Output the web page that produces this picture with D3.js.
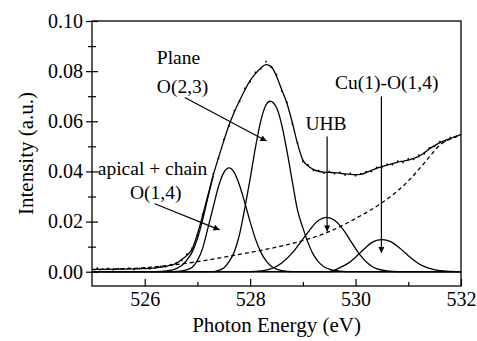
<!DOCTYPE html>
<html>
<head>
<meta charset="utf-8">
<script src="https://cdn.jsdelivr.net/npm/d3@7"></script>
<style>
  body { margin: 0; background: #fff; }
  svg { display: block; font-family: "Liberation Serif", "Times New Roman", serif; }
</style>
</head>
<body>
<svg id="chart"></svg>
<script>
// axis ticks
const energyTicks = [526, 528, 530, 532];
const energyMinorTicks = [527, 529, 531];
const intensityTicks = [0, 0.02, 0.04, 0.06, 0.08, 0.10];
const intensityMinorTicks = [0.01, 0.03, 0.05, 0.07, 0.09];

// measured points [eV, intensity]
const measured = [
  [525.1, .0014], [525.2, .0010], [525.3, .0013], [525.4, .0008], [525.5, .0012], [525.6, .0011],
  [525.7, .0014], [525.8, .0009], [525.9, .0013], [526.0, .0015], [526.1, .0012], [526.2, .0016],
  [526.3, .0021], [526.4, .0020], [526.5, .0028], [526.6, .0036], [526.7, .0045], [526.8, .0070],
  [526.9, .0094], [527.0, .0146], [527.1, .0230], [527.2, .0301], [527.3, .0390], [527.4, .0452],
  [527.5, .0527], [527.6, .0581], [527.7, .0642], [527.8, .0679], [527.9, .0731], [528.0, .0758],
  [528.1, .0795], [528.2, .0809], [528.3, .0838], [528.4, .0815], [528.5, .0786], [528.6, .0720],
  [528.7, .0675], [528.8, .0590], [528.9, .0514], [529.0, .0440], [529.1, .0426], [529.2, .0404],
  [529.3, .0403], [529.4, .0393], [529.5, .0399], [529.6, .0391], [529.7, .0396], [529.8, .0386],
  [529.9, .0392], [530.0, .0383], [530.1, .0391], [530.2, .0399], [530.3, .0400], [530.4, .0416],
  [530.5, .0415], [530.6, .0429], [530.7, .0427], [530.8, .0441], [530.9, .0436], [531.0, .0450],
  [531.1, .0448], [531.2, .0465], [531.3, .0470], [531.4, .0494], [531.5, .0500], [531.6, .0519],
  [531.7, .0521], [531.8, .0535], [531.9, .0537]
];

// total fit
const fitTotal = [
  [525.0, .0009], [525.5, .0010], [526.0, .0012], [526.2, .0015], [526.3, .0018], [526.4, .0022],
  [526.5, .0026], [526.6, .0033], [526.7, .0048], [526.8, .0065], [526.9, .0090], [527.0, .0150],
  [527.1, .0225], [527.2, .0305], [527.3, .0385], [527.4, .0455], [527.5, .0522], [527.6, .0585],
  [527.7, .0637], [527.8, .0683], [527.9, .0725], [528.0, .0762], [528.1, .0790], [528.2, .0812],
  [528.3, .0826], [528.4, .0818], [528.5, .0780], [528.6, .0725], [528.7, .0670], [528.8, .0595],
  [528.9, .0510], [529.0, .0445], [529.1, .0422], [529.2, .0408], [529.3, .0400], [529.4, .0397],
  [529.5, .0396], [529.6, .0395], [529.7, .0393], [529.8, .0390], [529.9, .0388], [530.0, .0387],
  [530.1, .0388], [530.2, .0395], [530.3, .0404], [530.4, .0412], [530.5, .0419], [530.6, .0425],
  [530.7, .0431], [530.8, .0437], [530.9, .0441], [531.0, .0445], [531.1, .0452], [531.2, .0460],
  [531.3, .0474], [531.4, .0490], [531.5, .0503], [531.6, .0515], [531.7, .0524], [531.8, .0531],
  [531.9, .0539], [532.0, .0547]
];

// second line on the low-energy flank
const fitInner = [
  [526.2, 0], [526.4, .0003], [526.5, .0006], [526.6, .0012], [526.7, .0025], [526.8, .0046],
  [526.9, .0078], [527.0, .0132], [527.1, .0208], [527.2, .0298], [527.3, .0382]
];

// background (dashed)
const background = [
  [525.0, .0008], [525.5, .0011], [526.0, .0016], [526.5, .0026], [527.0, .0040], [527.5, .0058],
  [528.0, .0077], [528.5, .0098], [529.0, .0124], [529.5, .0160], [530.0, .0212], [530.5, .0275],
  [530.8, .0323], [531.0, .0362], [531.2, .0408], [531.4, .0458], [531.6, .0505], [531.8, .0530],
  [532.0, .0547]
];

// peak components
const peakApical = [
  [525, 0], [526.5, 0], [526.6, .0001], [526.7, .0003], [526.8, .0008], [526.9, .0018],
  [527.0, .0045], [527.1, .0094], [527.2, .0175], [527.3, .0258], [527.4, .0340], [527.5, .0395],
  [527.6, .0414], [527.7, .0395], [527.8, .0344], [527.9, .0274], [528.0, .0199], [528.1, .0131],
  [528.2, .0079], [528.3, .0044], [528.4, .0022], [528.5, .0010], [528.6, .0004], [528.8, 0], [532, 0]
];
const peakPlane = [
  [525, 0], [527.3, 0], [527.4, .0005], [527.5, .0015], [527.6, .0040], [527.7, .0080],
  [527.8, .0150], [527.9, .0255], [528.0, .0370], [528.1, .0495], [528.2, .0600], [528.3, .0665],
  [528.38, .0680], [528.5, .0655], [528.6, .0585], [528.7, .0480], [528.8, .0360], [528.9, .0245],
  [529.0, .0175], [529.1, .0115], [529.2, .0068], [529.3, .0038], [529.4, .0020], [529.5, .0010],
  [529.7, .0002], [529.9, 0], [532, 0]
];
const peakUHB = [
  [525, 0], [528.0, 0], [528.2, .0003], [528.4, .0012], [528.6, .0035], [528.8, .0075],
  [529.0, .0130], [529.1, .0158], [529.2, .0185], [529.3, .0205], [529.45, .0217], [529.6, .0205],
  [529.7, .0185], [529.8, .0158], [529.9, .0125], [530.0, .0092], [530.1, .0063], [530.2, .0040],
  [530.3, .0023], [530.4, .0012], [530.6, .0003], [530.8, 0], [532, 0]
];
const peakCuO = [
  [525, 0], [529.5, 0], [529.7, .0016], [529.9, .0040], [530.0, .0058], [530.1, .0078],
  [530.2, .0098], [530.3, .0115], [530.4, .0125], [530.5, .0128], [530.6, .0125], [530.7, .0116],
  [530.8, .0101], [530.9, .0083], [531.0, .0064], [531.1, .0047], [531.2, .0032], [531.3, .0021],
  [531.4, .0013], [531.6, .0004], [531.8, .0001], [532, 0]
];

// annotations in data units
const labels = [
  { text: 'Plane', x: 526.23, y: 0.0827, anchor: 'start' },
  { text: 'O(2,3)', x: 526.23, y: 0.0711, anchor: 'start' },
  { text: 'apical + chain', x: 525.11, y: 0.0387, anchor: 'start' },
  { text: 'O(1,4)', x: 525.72, y: 0.0291, anchor: 'start' },
  { text: 'UHB', x: 529.44, y: 0.0567, anchor: 'middle' },
  { text: 'Cu(1)-O(1,4)', x: 530.59, y: 0.0729, anchor: 'middle' }
];
const arrows = [
  { x1: 526.76, y1: 0.0695, x2: 528.31, y2: 0.0521 },
  { x1: 526.19, y1: 0.0271, x2: 527.42, y2: 0.0167 },
  { x1: 529.46, y1: 0.0539, x2: 529.46, y2: 0.0160 },
  { x1: 530.49, y1: 0.0699, x2: 530.49, y2: 0.0075 }
];

class SpectrumChart {
    constructor(config) {
        this.config = {
            parentElement: config.parentElement,
            containerWidth: config.containerWidth || 477,
            containerHeight: config.containerHeight || 341,
            margin: config.margin || { top: 21, right: 16, bottom: 55, left: 92 }
        };
        this.initApp();
    }
    initApp() {
        const app = this;
        app.width = app.config.containerWidth - app.config.margin.left - app.config.margin.right;
        app.height = app.config.containerHeight - app.config.margin.top - app.config.margin.bottom;
        app.xScale = d3.scaleLinear().domain([525, 532]).range([0, app.width]);
        app.yScale = d3.scaleLinear().domain([-0.0057, 0.10]).range([app.height, 0]);
        app.svg = d3.select(app.config.parentElement)
            .attr('width', app.config.containerWidth)
            .attr('height', app.config.containerHeight);
        app.svg.append('defs').append('marker')
            .attr('id', 'head')
            .attr('viewBox', '0 0 10 10')
            .attr('refX', 10).attr('refY', 5)
            .attr('markerUnits', 'userSpaceOnUse')
            .attr('markerWidth', 9).attr('markerHeight', 6)
            .attr('orient', 'auto')
            .append('path').attr('d', 'M0,0 L10,5 L0,10 Z').attr('fill', '#000');
        app.chart = app.svg.append('g')
            .attr('transform', `translate(${app.config.margin.left},${app.config.margin.top})`);
        app.renderApp();
    }
    renderApp() {
        const app = this;
        const line = d3.line()
            .x(d => app.xScale(d[0]))
            .y(d => app.yScale(d[1]))
            .curve(d3.curveMonotoneX);

        // zero line
        app.chart.append('line')
            .attr('x1', 0).attr('x2', app.width)
            .attr('y1', app.yScale(0)).attr('y2', app.yScale(0))
            .attr('stroke', '#000').attr('stroke-width', 1.5);

        app.chart.append('path').datum(background)
            .attr('d', line).attr('fill', 'none')
            .attr('stroke', '#000').attr('stroke-width', 1.3)
            .attr('stroke-dasharray', '4,3');

        [peakApical, peakPlane, peakUHB, peakCuO, fitInner, fitTotal].forEach(series => {
            app.chart.append('path').datum(series)
                .attr('d', line).attr('fill', 'none')
                .attr('stroke', '#000').attr('stroke-width', 1.3);
        });

        app.chart.selectAll('.pt').data(measured).enter().append('rect')
            .attr('class', 'pt')
            .attr('x', d => app.xScale(d[0]) - 0.8)
            .attr('y', d => app.yScale(d[1]) - 0.8)
            .attr('width', 1.6).attr('height', 1.6)
            .attr('fill', '#000');

        // axes
        const xAxis = d3.axisBottom(app.xScale).tickValues(energyTicks)
            .tickSize(-7).tickPadding(6).tickFormat(d3.format('d'));
        const xMinor = d3.axisBottom(app.xScale).tickValues(energyMinorTicks)
            .tickSize(-4).tickFormat('');
        const yAxis = d3.axisLeft(app.yScale).tickValues(intensityTicks)
            .tickSize(6).tickPadding(3).tickFormat(d3.format('.2f'));
        const yMinor = d3.axisLeft(app.yScale).tickValues(intensityMinorTicks)
            .tickSize(4).tickFormat('');

        const xg = app.chart.append('g').attr('transform', `translate(0,${app.height})`).call(xAxis);
        app.chart.append('g').attr('transform', `translate(0,${app.height})`).call(xMinor);
        const yg = app.chart.append('g').call(yAxis);
        const ym = app.chart.append('g').call(yMinor);
        // y ticks cross the axis line
        yg.selectAll('.tick line').attr('x1', 6);
        ym.selectAll('.tick line').attr('x1', 4);
        app.chart.selectAll('.domain').remove();
        app.chart.selectAll('.tick line').attr('stroke', '#000').attr('stroke-width', 1.2);
        xg.selectAll('text').attr('font-size', 20).attr('fill', '#000').attr('font-family', 'Liberation Serif');
        yg.selectAll('text').attr('font-size', 20).attr('fill', '#000').attr('font-family', 'Liberation Serif');

        app.chart.append('rect')
            .attr('width', app.width).attr('height', app.height)
            .attr('fill', 'none').attr('stroke', '#000').attr('stroke-width', 1.3);

        // annotations
        arrows.forEach(a => {
            app.chart.append('line')
                .attr('x1', app.xScale(a.x1)).attr('y1', app.yScale(a.y1))
                .attr('x2', app.xScale(a.x2)).attr('y2', app.yScale(a.y2))
                .attr('stroke', '#000').attr('stroke-width', 1.2)
                .attr('marker-end', 'url(#head)');
        });
        app.chart.selectAll('.note').data(labels).enter().append('text')
            .attr('class', 'note')
            .attr('x', d => app.xScale(d.x))
            .attr('y', d => app.yScale(d.y))
            .attr('text-anchor', d => d.anchor)
            .attr('font-size', 19.5)
            .text(d => d.text);

        // axis titles
        app.chart.append('text')
            .attr('x', app.width / 2).attr('y', app.height + 46)
            .attr('text-anchor', 'middle').attr('font-size', 21)
            .text('Photon Energy (eV)');
        app.chart.append('text')
            .attr('transform', 'rotate(-90)')
            .attr('x', -app.height / 2).attr('y', -59)
            .attr('text-anchor', 'middle').attr('font-size', 21)
            .text('Intensity (a.u.)');
    }
}

new SpectrumChart({ parentElement: '#chart' });
</script>
</body>
</html>
